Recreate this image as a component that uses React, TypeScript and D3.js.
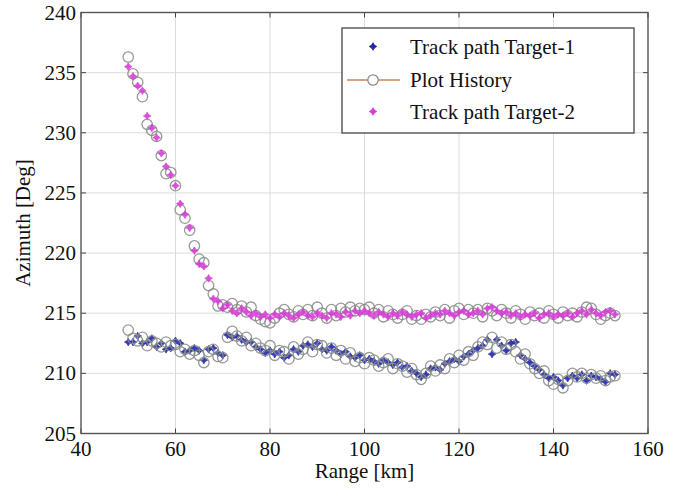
import React from "react";
import * as d3 from "d3";

const rangeKm: number[] = d3.range(50, 154);

const target1: number[] = [
  212.6, 212.6, 213.1, 212.5, 212.6, 212.9, 212.2, 212.5, 212.0, 212.1,
  212.7, 212.5, 211.8, 211.9, 212.1, 211.9, 211.1, 212.0, 212.1, 211.7,
  211.5, 213.2, 213.0, 213.1, 212.8, 212.6, 212.6, 212.2, 212.0, 211.7,
  211.9, 211.6, 211.8, 211.3, 211.5, 212.0, 211.8, 212.3, 212.4, 212.2,
  212.5, 212.0, 211.9, 212.2, 211.9, 211.6, 211.8, 211.4, 211.3, 211.5,
  211.1, 211.2, 211.0, 210.8, 211.1, 210.9, 210.7, 210.9, 210.5, 210.6,
  210.2, 210.0, 209.7, 209.9, 210.4, 210.5, 210.3, 210.8, 211.0, 211.2,
  211.0, 211.4, 211.6, 211.9, 212.1, 212.3, 212.8, 211.6, 212.8, 212.3,
  211.9, 212.5, 212.6, 211.5, 211.2, 210.9, 210.6, 210.3, 209.9, 209.6,
  209.7, 209.4, 209.0, 209.6, 209.8, 209.6, 209.9, 209.4, 209.8, 209.7,
  209.5, 209.3, 210.0, 209.9,
];

const history1: number[] = [
  213.6, 212.9, 212.7, 213.0, 212.3, 212.7, 212.5, 212.2, 212.6, 212.3,
  212.4, 211.8, 212.0, 211.6, 211.9, 211.5, 210.9, 211.8, 212.0, 211.4,
  211.3, 213.0, 213.5, 213.1, 212.7, 213.0, 212.3, 212.5, 212.1, 211.9,
  212.3, 211.5, 211.9, 211.8, 211.2, 212.2, 211.6, 212.0, 212.6, 211.8,
  212.4, 212.3, 211.7, 212.1, 211.5, 211.9, 211.2, 211.7, 211.0, 211.3,
  210.8, 211.3, 211.1, 210.6, 210.9, 211.2, 210.4, 210.8, 210.6, 210.1,
  210.4, 209.9, 209.5, 210.0, 210.6, 210.2, 210.7, 210.4, 211.2, 210.9,
  211.5, 211.1, 211.8, 211.5, 212.2, 212.6, 212.4, 213.0, 212.1, 212.6,
  212.0, 212.4, 211.8, 211.2, 211.6, 210.8, 210.4, 210.0, 210.2, 209.4,
  209.1, 209.5, 208.8, 209.4, 210.0, 209.7, 210.0, 209.6, 209.9, 209.6,
  209.8, 209.4, 209.7, 209.8,
];

const target2: number[] = [
  235.5, 234.7, 233.9, 233.5, 231.4, 230.4, 229.6, 228.3, 227.2, 226.5,
  225.6, 224.1, 223.2, 222.1, 220.2, 219.1, 218.9, 217.9, 216.2, 216.0,
  215.4, 215.7, 215.2, 215.0, 215.4, 215.1, 214.8, 215.0, 214.7, 214.9,
  214.6, 214.9, 214.7, 215.0, 214.8, 214.6, 214.9, 215.1, 214.8, 214.7,
  215.0, 214.8, 214.6, 215.0, 214.9, 214.7, 215.1, 214.8, 215.2, 215.0,
  215.2, 215.0, 214.8, 215.1, 214.9, 214.7, 215.0, 214.8, 215.1, 214.9,
  214.7, 214.9, 215.0, 214.6, 214.8, 215.0, 214.9, 215.2, 215.0, 214.8,
  215.1, 215.2, 214.9, 215.0, 215.2, 214.9, 215.4, 215.5, 215.2, 215.0,
  215.1, 214.8, 215.0, 214.7, 214.9, 214.8, 215.0, 214.6, 214.9, 215.0,
  214.7, 214.9, 214.8, 215.0, 214.7, 215.0, 215.2, 214.9, 215.3, 215.0,
  214.8, 215.1, 215.2, 214.9,
];

const history2: number[] = [
  236.3, 234.9, 234.2, 233.0, 230.7, 230.2, 229.7, 228.1, 226.6, 226.7,
  225.6, 223.6, 222.9, 221.9, 220.6, 219.5, 219.2, 217.3, 216.6, 215.6,
  215.7, 215.5, 215.8, 215.3, 215.6, 215.1, 215.5, 214.8, 214.5, 214.3,
  214.2, 214.6, 215.0, 215.3, 214.9, 214.7, 215.2, 214.9, 215.3, 214.8,
  215.5, 215.0, 214.6, 215.3, 214.8, 215.4, 215.1, 215.5, 215.2, 215.4,
  215.3, 215.5, 215.0, 215.3, 214.7, 215.2, 214.9, 214.6, 214.9, 215.2,
  214.5, 214.8, 214.5, 214.9, 214.7, 215.1, 214.8, 215.3, 214.6, 215.2,
  215.4, 214.9, 215.3, 215.0, 215.3, 214.7, 215.4, 215.2, 214.8, 215.3,
  215.0, 214.6, 215.2, 214.9, 214.5, 215.1, 214.8, 215.0, 214.6, 215.2,
  214.9, 214.6, 215.1, 214.8, 215.0, 214.7, 215.1, 215.5, 215.4, 214.9,
  214.5, 214.8, 215.0, 214.8,
];

const xTicks: number[] = [40, 60, 80, 100, 120, 140, 160];
const yTicks: number[] = [205, 210, 215, 220, 225, 230, 235, 240];
const legendLabels: string[] = ["Track path Target-1", "Plot History", "Track path Target-2"];

const W = 673;
const H = 491;
const M = { left: 81, right: 648, top: 12.5, bottom: 433.5 };
const BLUE = "#2226a8";
const MAGENTA = "#d83cd8";
const CIRCLE = "#8a8f8a";
const LINE = "#c8845a";
const FONT = "'Liberation Serif', 'Times New Roman', serif";
const FS = 21;

// small four-pointed star marker
const R = 3.8, r = 2.0;
const star = d3.lineRadial<number>()
  .angle((_, i) => (i * Math.PI) / 4)
  .radius((d) => d)
  .curve(d3.curveLinearClosed)([R, r, R, r, R, r, R, r]) as string;

export default function App() {
  const x = d3.scaleLinear().domain([40, 160]).range([M.left, M.right]);
  const y = d3.scaleLinear().domain([205, 240]).range([M.bottom, M.top]);

  const markers = (vals: number[], color: string, key: string) =>
    vals.map((v, i) => (
      <path
        key={key + i}
        d={star}
        transform={`translate(${x(rangeKm[i])},${y(v)})`}
        fill={color}
        stroke={color}
        strokeWidth={0.8}
        opacity={0.9}
      />
    ));

  const circles = (vals: number[], key: string) =>
    vals.map((v, i) => (
      <circle
        key={key + i}
        cx={x(rangeKm[i])}
        cy={y(v)}
        r={5.2}
        fill="none"
        stroke={CIRCLE}
        strokeWidth={1.3}
        opacity={0.9}
      />
    ));

  const lx = 342, ly = 28, lw = 292, lh = 105;
  const rows = [46.5, 80, 111.5];

  return (
    <svg
      width={W}
      height={H}
      style={{ position: "absolute", left: 0, top: 0, background: "#fff" }}
      fontFamily={FONT}
    >
      <rect x={0} y={0} width={W} height={H} fill="#fff" />
      {xTicks.slice(1, -1).map((t) => (
        <line key={"gx" + t} x1={x(t)} x2={x(t)} y1={M.top} y2={M.bottom} stroke="#dcdcdc" strokeWidth={1} />
      ))}
      {yTicks.slice(1, -1).map((t) => (
        <line key={"gy" + t} x1={M.left} x2={M.right} y1={y(t)} y2={y(t)} stroke="#dcdcdc" strokeWidth={1} />
      ))}
      {xTicks.map((t) => (
        <g key={"tx" + t}>
          <line x1={x(t)} x2={x(t)} y1={M.bottom} y2={M.bottom - 5} stroke="#444" />
          <line x1={x(t)} x2={x(t)} y1={M.top} y2={M.top + 5} stroke="#444" />
          <text x={x(t)} y={456} textAnchor="middle" fontSize={FS} fill="#111">
            {t}
          </text>
        </g>
      ))}
      {yTicks.map((t) => (
        <g key={"ty" + t}>
          <line x1={M.left} x2={M.left + 5} y1={y(t)} y2={y(t)} stroke="#444" />
          <line x1={M.right} x2={M.right - 5} y1={y(t)} y2={y(t)} stroke="#444" />
          <text x={76} y={y(t) + 7} textAnchor="end" fontSize={FS} fill="#111">
            {t}
          </text>
        </g>
      ))}
      {markers(target1, BLUE, "b")}
      {circles(history1, "c1")}
      {circles(history2, "c2")}
      {markers(target2, MAGENTA, "m")}
      <rect
        x={M.left}
        y={M.top}
        width={M.right - M.left}
        height={M.bottom - M.top}
        fill="none"
        stroke="#555"
        strokeWidth={1.4}
      />
      <text x={(M.left + M.right) / 2} y={478} textAnchor="middle" fontSize={FS} fill="#111">
        Range [km]
      </text>
      <text
        transform={`translate(30,${(M.top + M.bottom) / 2}) rotate(-90)`}
        textAnchor="middle"
        fontSize={FS}
        fill="#111"
      >
        Azimuth [Deg]
      </text>
      <rect x={lx} y={ly} width={lw} height={lh} fill="#fff" stroke="#444" strokeWidth={1.3} />
      <path d={star} transform={`translate(373,${rows[0]})`} fill={BLUE} stroke={BLUE} strokeWidth={0.8} />
      <line x1={347} x2={400} y1={rows[1]} y2={rows[1]} stroke={LINE} strokeWidth={1.5} />
      <circle cx={373} cy={rows[1]} r={5.2} fill="#fff" stroke={CIRCLE} strokeWidth={1.3} />
      <path d={star} transform={`translate(373,${rows[2]})`} fill={MAGENTA} stroke={MAGENTA} strokeWidth={0.8} />
      {legendLabels.map((l, i) => (
        <text key={l} x={410} y={rows[i] + 7} fontSize={FS} fill="#111">
          {l}
        </text>
      ))}
    </svg>
  );
}
